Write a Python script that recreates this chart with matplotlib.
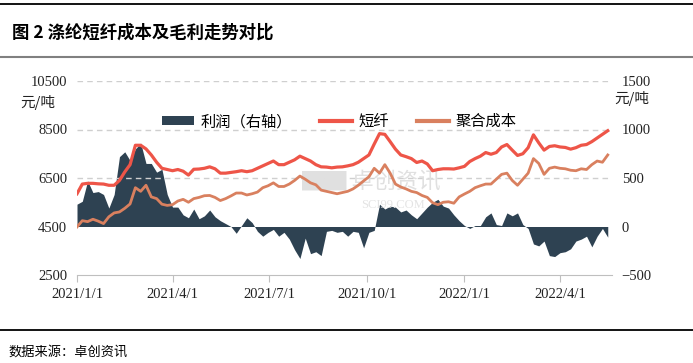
"""涤纶短纤成本及毛利走势对比 (图 2) — recreated with matplotlib."""

import matplotlib
import matplotlib.pyplot as plt
import matplotlib.dates as mdates
import pandas as pd
from matplotlib.lines import Line2D
from matplotlib.patches import Patch

matplotlib.use("Agg")

CJK = ["Noto Sans CJK SC", "DejaVu Sans"]
SERIF = ["Liberation Serif", "DejaVu Serif"]

# ---- data (one point every 5 days) ----
dates = pd.date_range("2021-01-01", periods=101, freq="5D")

fiber = [
    5850, 6250, 6280, 6280, 6260, 6250, 6200, 6200, 6400, 6750,
    7050, 7850, 7850, 7700, 7450, 7150, 6900, 6850, 6800, 6850,
    6780, 6620, 6860, 6870, 6900, 6960, 6880, 6700, 6700, 6730,
    6760, 6800, 6760, 6800, 6900, 7000, 7100, 7200, 7050, 7050,
    7150, 7250, 7400, 7300, 7200, 7050, 6960, 6950, 6920, 6950,
    6960, 7000, 7050, 7150, 7300, 7450, 7900, 8330, 8300, 8000,
    7690, 7450, 7380, 7300, 7140, 7200, 7080, 6800, 6850, 6880,
    6880, 6870, 6920, 6980, 7180, 7300, 7400, 7550, 7480, 7550,
    7780, 7880, 7650, 7430, 7500, 7750, 8280, 7950, 7650, 7800,
    7830, 7780, 7760, 7690, 7750, 7850, 7880, 8000, 8150, 8300,
    8450,
]

cost = [
    4480, 4740, 4700, 4800, 4720, 4620, 4900, 5060, 5100, 5250,
    5430, 6100, 5950, 6200, 5720, 5650, 5420, 5370, 5400, 5550,
    5620, 5500, 5650, 5700, 5770, 5780, 5700, 5570, 5650, 5760,
    5880, 5880, 5800, 5850, 5920, 6100, 6180, 6300, 6150, 6150,
    6250, 6400, 6580, 6450, 6300, 6220, 6000, 5950, 5900, 5850,
    5900, 5950, 6050, 6200, 6380, 6550, 6900, 6700, 7050, 6700,
    6250, 6130, 6050, 5950, 5900, 5780, 5700, 5480, 5400, 5500,
    5520, 5460, 5720, 5840, 5950, 6100, 6180, 6250, 6250, 6450,
    6650, 6700, 6400, 6200, 6450, 6700, 7300, 7100, 6650, 6900,
    6950, 6900, 6880, 6820, 6800, 6880, 6850, 7050, 7200, 7150,
    7450,
]

profit = [
    230, 260, 470, 350, 360, 330, 190, 330, 720, 770,
    680, 800, 860, 650, 650, 560, 590, 330, 200, 200,
    120, 90, 180, 80, 110, 170, 100, 60, 30, 0,
    -70, 10, 90, 40, -50, -100, -60, -30, -100, -60,
    -130, -240, -330, -120, -280, -260, -300, -50, -40, -60,
    -50, -100, -50, -60, -220, -60, -40, 230, 180, 210,
    200, 150, 170, 120, 80, 140, 200, 250, 280, 210,
    190, 120, 60, 10, -20, 10, 10, 100, 140, 20,
    10, 140, 110, 140, 20, -20, -180, -200, -150, -300,
    -310, -270, -260, -230, -150, -130, -100, -210, -100, -20,
    -110,
]

left_ticks = [2500, 4500, 6500, 8500, 10500]
right_ticks = [-500, 0, 500, 1000, 1500]
x_ticks = ["2021-01-01", "2021-04-01", "2021-07-01", "2021-10-01",
           "2022-01-01", "2022-04-01"]

RED = "#EE5548"
ORANGE = "#D9805F"
DARK = "#2E4252"
GRID = "#cfcfcf"

W, H = 693, 363
fig = plt.figure(figsize=(W / 100, H / 100), dpi=100)

# rules and captions of the report frame
fig.add_artist(Line2D([0, 1], [1 - 4 / H] * 2, color="black", lw=1.3))
fig.add_artist(Line2D([0, 1], [1 - 57 / H] * 2, color="#808080", lw=1.5))
fig.add_artist(Line2D([0, 1], [1 - 330 / H] * 2, color="black", lw=1.3))
fig.text(12 / W, 1 - 33 / H, "图 2 涤纶短纤成本及毛利走势对比", family=CJK,
         fontsize=12.5, fontweight="bold", va="center", ha="left")
fig.text(8 / W, 1 - 352 / H, "数据来源：卓创资讯", family=CJK,
         fontsize=9.5, va="center", ha="left")

ax = fig.add_axes([77 / W, 1 - 275 / H, 535 / W, 194 / H])
ax2 = ax.twinx()

# profit area on the right axis, drawn underneath
ax.set_zorder(ax2.get_zorder() + 1)
ax.patch.set_visible(False)
ax2.fill_between(dates, profit, 0, color=DARK, lw=0, zorder=2)

ax.plot(dates, fiber, color=RED, lw=2.3, zorder=4, solid_joinstyle="round")
ax.plot(dates, cost, color=ORANGE, lw=2.0, zorder=3, solid_joinstyle="round")

# faint watermark
ax.text(0.55, 0.48, "▇▇ 卓创资讯", transform=ax.transAxes, family=CJK,
        fontsize=16, color="#e0e0e0", ha="center", va="center", zorder=1)
ax.text(0.59, 0.36, "SCI99.COM", transform=ax.transAxes, family=SERIF,
        fontsize=9, color="#e4e4e4", ha="center", va="center", zorder=1)

ax.set_xlim(pd.Timestamp("2021-01-01"), pd.Timestamp("2022-05-20"))
ax.set_ylim(2500, 10500)
ax2.set_ylim(-500, 1500)

ax.set_yticks(left_ticks)
ax2.set_yticks(right_ticks)
ax.set_xticks(pd.to_datetime(x_ticks))
ax.xaxis.set_major_formatter(mdates.DateFormatter("%Y/%-m/%-d"))

for a in (ax, ax2):
    for side in ("top", "left", "right", "bottom"):
        a.spines[side].set_visible(False)
ax.spines["bottom"].set_visible(True)
ax.spines["bottom"].set_color("#bfbfbf")

for v in left_ticks[2:]:
    ax.axhline(v, color=GRID, lw=1.0, ls=(0, (4, 3)), zorder=0)

ax.tick_params(axis="y", length=0, pad=7, labelsize=10.5)
ax2.tick_params(axis="y", length=0, pad=7, labelsize=10.5)
ax.tick_params(axis="x", length=5, width=0.8, color="#bfbfbf", pad=4,
               labelsize=10.5)
for lab in ax.get_xticklabels() + ax.get_yticklabels() + ax2.get_yticklabels():
    lab.set_family(SERIF)
    lab.set_color("#222222")

fig.text(38 / W, 1 - 103 / H, "元/吨", family=CJK, fontsize=10.5,
         ha="center", va="center", color="#222222")
fig.text(632 / W, 1 - 98 / H, "元/吨", family=CJK, fontsize=10.5,
         ha="center", va="center", color="#222222")

handles = [
    Patch(facecolor=DARK, edgecolor="none"),
    Line2D([], [], color=RED, lw=3),
    Line2D([], [], color=ORANGE, lw=3),
]
ax.legend(handles, ["利润（右轴）", "短纤", "聚合成本"], ncol=3, loc="center",
          bbox_to_anchor=(0.49, 0.79), frameon=False, handlelength=2.1,
          handleheight=0.55, handletextpad=0.45, columnspacing=1.8,
          prop={"family": CJK, "size": 11})

fig.savefig("out.png", dpi=100)
